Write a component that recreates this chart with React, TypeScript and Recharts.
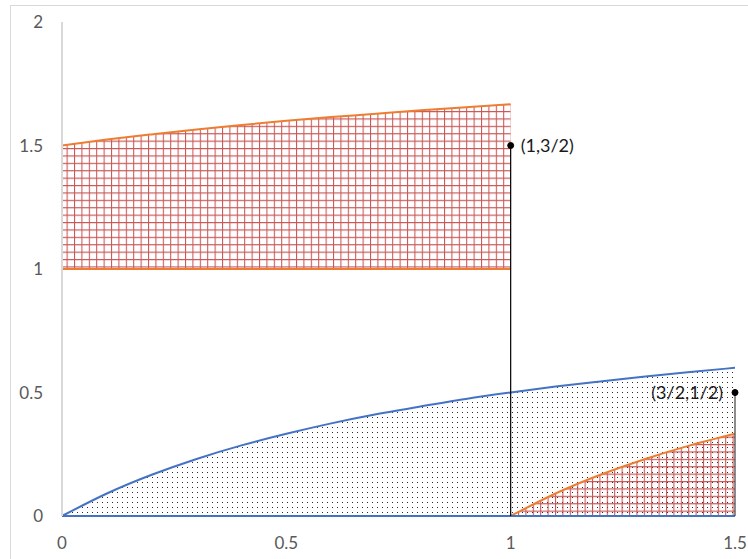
import {
  ComposedChart,
  Area,
  XAxis,
  YAxis,
  ReferenceLine,
  ReferenceDot,
} from 'recharts';

// upper band (x from 0 to 1): floor at 1, top curve
const topX = [0, 0.1, 0.2, 0.3, 0.4, 0.5, 0.6, 0.7, 0.8, 0.9, 1];
const topCurve = [1.5, 1.524, 1.545, 1.565, 1.583, 1.6, 1.615, 1.629, 1.643, 1.655, 1.667];
const topFloor = [1, 1, 1, 1, 1, 1, 1, 1, 1, 1, 1];

// blue curve (x from 0 to 1.5)
const blueX = [0, 0.1, 0.2, 0.3, 0.4, 0.5, 0.6, 0.7, 0.8, 0.9, 1, 1.1, 1.2, 1.3, 1.4, 1.5];
const blueCurve = [0, 0.091, 0.167, 0.231, 0.286, 0.333, 0.375, 0.412, 0.444, 0.474, 0.5, 0.524, 0.545, 0.565, 0.583, 0.6];

// lower orange curve (x from 1 to 1.5)
const lowX = [1, 1.1, 1.2, 1.3, 1.4, 1.5];
const lowCurve = [0, 0.091, 0.167, 0.231, 0.286, 0.333];

const xTicks = [0, 0.5, 1, 1.5];
const yTicks = [0, 0.5, 1, 1.5, 2];

const topData = topX.map((x, i) => ({ x, band: [topFloor[i], topCurve[i]] }));
const blueData = blueX.map((x, i) => ({ x, y: blueCurve[i] }));
const lowData = lowX.map((x, i) => ({ x, y: lowCurve[i] }));

const BLUE = '#4472c4';
const ORANGE = '#ed7d31';
const FONT = 'Lato, "Open Sans", sans-serif';
const tickStyle = { fontSize: 17, fill: '#595959', fontFamily: FONT };

export default function App() {
  return (
    <div style={{ position: 'absolute', left: 0, top: 0, width: 748, height: 559, background: '#fff', overflow: 'hidden' }}>
      <div
        style={{
          position: 'absolute',
          left: 10,
          top: 5,
          width: 800,
          height: 600,
          borderLeft: '1px solid #d9d9d9',
          borderTop: '1px solid #d9d9d9',
        }}
      />
      <div style={{ position: 'absolute', left: 0, top: 0 }}>
        <ComposedChart width={748} height={559} margin={{ top: 22, right: 13, bottom: 0, left: 0 }}>
          <defs>
            <pattern id="dots" width="5" height="5" patternUnits="userSpaceOnUse">
              <rect x="2" y="2" width="1" height="1" fill="#2a2a2a" shapeRendering="crispEdges" />
            </pattern>
            <pattern id="grid" width="7.4" height="7.4" patternUnits="userSpaceOnUse">
              <path d="M0.5 0 V7.4 M0 0.5 H7.4" stroke="rgba(192,55,55,0.85)" strokeWidth="1.1" fill="none" />
            </pattern>
          </defs>
          <XAxis
            type="number"
            dataKey="x"
            domain={[0, 1.5]}
            ticks={xTicks}
            allowDataOverflow
            axisLine={false}
            tickLine={false}
            tickMargin={15}
            height={43}
            tick={tickStyle}
          />
          <YAxis
            type="number"
            domain={[0, 2]}
            ticks={yTicks}
            axisLine={{ stroke: '#d9d9d9', strokeWidth: 2 }}
            tickLine={false}
            tickMargin={13}
            width={62}
            tick={tickStyle}
          />
          <Area
            data={blueData}
            dataKey="y"
            type="natural"
            stroke={BLUE}
            strokeWidth={2}
            fill="url(#dots)"
            fillOpacity={1}
            dot={false}
            activeDot={false}
            isAnimationActive={false}
          />
          <Area
            data={topData}
            dataKey="band"
            type="natural"
            stroke={ORANGE}
            strokeWidth={2}
            fill="url(#grid)"
            fillOpacity={1}
            dot={false}
            activeDot={false}
            isAnimationActive={false}
          />
          <Area
            data={lowData}
            dataKey="y"
            type="natural"
            stroke={ORANGE}
            strokeWidth={2}
            fill="url(#grid)"
            fillOpacity={1}
            dot={false}
            activeDot={false}
            isAnimationActive={false}
          />
          <ReferenceLine y={0} stroke={BLUE} strokeWidth={2} />
          <ReferenceLine segment={[{ x: 1, y: 0 }, { x: 1, y: 1.5 }]} stroke="#000" strokeWidth={1.2} />
          <ReferenceLine segment={[{ x: 1.5, y: 0 }, { x: 1.5, y: 0.5 }]} stroke="#404040" strokeWidth={1.2} />
          <ReferenceDot
            x={1}
            y={1.5}
            r={3}
            fill="#000"
            stroke="#000"
            label={{ value: '(1,3/2)', position: 'right', offset: 7, fontSize: 18, fill: '#1a1a1a', fontFamily: FONT }}
          />
          <ReferenceDot
            x={1.5}
            y={0.5}
            r={3}
            fill="#000"
            stroke="#000"
            label={{ value: '(3/2,1/2)', position: 'left', offset: 9, fontSize: 18, fill: '#1a1a1a', fontFamily: FONT }}
          />
        </ComposedChart>
      </div>
    </div>
  );
}
